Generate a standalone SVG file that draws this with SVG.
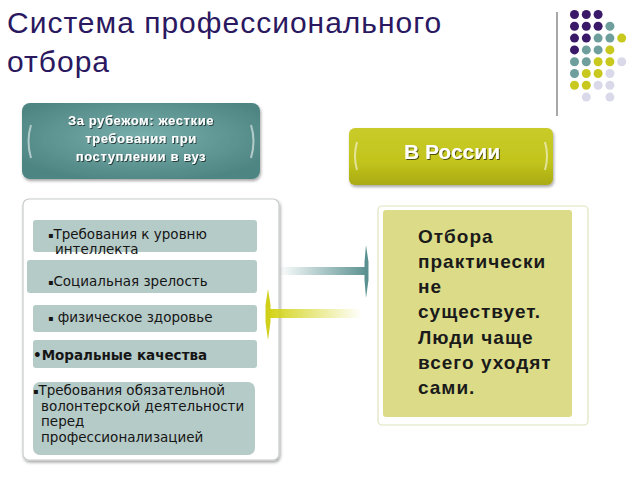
<svg xmlns="http://www.w3.org/2000/svg" width="640" height="480" viewBox="0 0 640 480">
<defs>
<style>
.title{font-family:"Liberation Sans",Arial,sans-serif;font-size:30px;letter-spacing:1px;fill:#2a1860}
.hdr{font-family:"Liberation Sans",Arial,sans-serif;font-weight:bold;fill:#ffffff;text-anchor:middle}
.item{font-family:"DejaVu Sans",Verdana,sans-serif;font-size:13.5px;fill:#151515}
.b{font-size:8px}
.big{font-family:"Liberation Sans",Arial,sans-serif;font-size:19px;font-weight:bold;letter-spacing:1px;fill:#1a1a1a}
.ibox{fill:#b5cbc8}
.p{fill:#3a1a68}.t{fill:#6e9f9c}.y{fill:#c8c81e}.l{fill:#d9d9ea}
.arc{fill:none;stroke:#ffffff;stroke-opacity:0.55;stroke-width:2}
</style>
<radialGradient id="gTeal" cx="50%" cy="45%" r="60%">
<stop offset="0" stop-color="#78aeac"/><stop offset="1" stop-color="#4e8583"/>
</radialGradient>
<linearGradient id="gYel" x1="0" y1="0" x2="0" y2="1">
<stop offset="0" stop-color="#c9cb2a"/><stop offset="0.6" stop-color="#c2c41c"/><stop offset="1" stop-color="#a9aa12"/>
</linearGradient>
<linearGradient id="aTeal" x1="0" y1="0" x2="1" y2="0">
<stop offset="0" stop-color="#5a9190" stop-opacity="0"/><stop offset="1" stop-color="#5a9190"/>
</linearGradient>
<linearGradient id="aYel" x1="0" y1="0" x2="1" y2="0">
<stop offset="0" stop-color="#d4d41c"/><stop offset="1" stop-color="#d4d41c" stop-opacity="0"/>
</linearGradient>
<filter id="sh" x="-10%" y="-10%" width="120%" height="130%">
<feDropShadow dx="1" dy="2" stdDeviation="1.5" flood-color="#000" flood-opacity="0.35"/>
</filter>
<filter id="tsh" x="-10%" y="-20%" width="120%" height="150%">
<feDropShadow dx="1" dy="1" stdDeviation="0.6" flood-color="#000" flood-opacity="0.6"/>
</filter>
</defs>
<rect width="640" height="480" fill="#ffffff"/>

<g id="title">
<text class="title" x="7" y="33">Система профессионального</text>
<text class="title" x="7" y="72">отбора</text>
</g>

<g id="decor">
<line x1="557" y1="12" x2="557" y2="116" stroke="#8a8a8a" stroke-width="1.5"/>
<circle class="p" cx="574.5" cy="14.5" r="4.5"/><circle class="p" cx="586.3" cy="14.5" r="4.5"/><circle class="p" cx="598.1" cy="14.5" r="4.5"/>
<circle class="p" cx="574.5" cy="26.3" r="4.5"/><circle class="p" cx="586.3" cy="26.3" r="4.5"/><circle class="p" cx="598.1" cy="26.3" r="4.5"/><circle class="t" cx="609.9" cy="26.3" r="4.5"/>
<circle class="p" cx="574.5" cy="38.1" r="4.5"/><circle class="p" cx="586.3" cy="38.1" r="4.5"/><circle class="t" cx="598.1" cy="38.1" r="4.5"/><circle class="t" cx="609.9" cy="38.1" r="4.5"/><circle class="y" cx="621.7" cy="38.1" r="4.5"/>
<circle class="p" cx="574.5" cy="49.9" r="4.5"/><circle class="t" cx="586.3" cy="49.9" r="4.5"/><circle class="t" cx="598.1" cy="49.9" r="4.5"/><circle class="y" cx="609.9" cy="49.9" r="4.5"/>
<circle class="t" cx="574.5" cy="61.7" r="4.5"/><circle class="t" cx="586.3" cy="61.7" r="4.5"/><circle class="y" cx="598.1" cy="61.7" r="4.5"/><circle class="y" cx="609.9" cy="61.7" r="4.5"/><circle class="l" cx="621.7" cy="61.7" r="4.5"/>
<circle class="t" cx="574.5" cy="73.5" r="4.5"/><circle class="y" cx="586.3" cy="73.5" r="4.5"/><circle class="y" cx="598.1" cy="73.5" r="4.5"/><circle class="l" cx="609.9" cy="73.5" r="4.5"/>
<circle class="y" cx="574.5" cy="85.3" r="4.5"/><circle class="y" cx="586.3" cy="85.3" r="4.5"/><circle class="l" cx="598.1" cy="85.3" r="4.5"/><circle class="l" cx="609.9" cy="85.3" r="4.5"/>
<circle class="l" cx="586.3" cy="97.1" r="4.5"/><circle class="l" cx="609.9" cy="97.1" r="4.5"/>
</g>

<g id="abroad-header">
<rect x="22" y="103" width="238" height="76" rx="8" fill="url(#gTeal)" filter="url(#sh)"/>
<path class="arc" d="M31 125 Q26 141 31 158"/>
<path class="arc" d="M251 125 Q256 141 251 158"/>
<text class="hdr" x="141" y="125" font-size="13" letter-spacing="0.6" filter="url(#tsh)">За рубежом: жесткие</text>
<text class="hdr" x="141" y="143" font-size="13" letter-spacing="0.6" filter="url(#tsh)">требования при</text>
<text class="hdr" x="141" y="161" font-size="13" letter-spacing="0.6" filter="url(#tsh)">поступлении в вуз</text>
</g>

<g id="russia-header">
<rect x="349" y="128" width="204" height="57" rx="6" fill="url(#gYel)" filter="url(#sh)"/>
<path class="arc" d="M357 142 Q353 156 357 170"/>
<path class="arc" d="M545 142 Q549 156 545 170"/>
<text class="hdr" x="452" y="159" font-size="21" filter="url(#tsh)">В России</text>
</g>

<g id="abroad-panel">
<rect x="23" y="199" width="256" height="261" rx="6" fill="#ffffff" stroke="#c9cccc" stroke-width="1.2" filter="url(#sh)"/>
</g>
<g id="item-intellect">
<rect class="ibox" x="33" y="220" width="224" height="32" rx="3"/>
<text class="item" x="48" y="239"><tspan class="b" dy="-1">▪</tspan><tspan dy="1">Требования к уровню</tspan></text>
<text class="item" x="55" y="254">интеллекта</text>
</g>
<g id="item-social">
<rect class="ibox" x="27" y="260" width="230" height="33" rx="3"/>
<text class="item" x="48" y="286"><tspan class="b" dy="-1">▪</tspan><tspan dy="1">Социальная зрелость</tspan></text>
</g>
<g id="item-health">
<rect class="ibox" x="33" y="305" width="224" height="27" rx="3"/>
<text class="item" x="48" y="322"><tspan class="b" dy="-1">▪</tspan><tspan dy="1"> физическое здоровье</tspan></text>
</g>
<g id="item-moral">
<rect class="ibox" x="33" y="340" width="224" height="28" rx="3"/>
<text class="item" x="33" y="360" font-size="14" font-weight="bold">•Моральные качества</text>
</g>
<g id="item-volunteer">
<rect class="ibox" x="33" y="382" width="222" height="73" rx="7"/>
<text class="item" x="33" y="395"><tspan class="b" dy="-1">▪</tspan><tspan dy="1">Требования обязательной</tspan></text>
<text class="item" x="41" y="411">волонтерской деятельности</text>
<text class="item" x="41" y="426">перед</text>
<text class="item" x="41" y="442">профессионализацией</text>
</g>

<g id="russia-panel">
<rect x="378" y="206" width="210" height="219" rx="4" fill="#ffffff" stroke="#dfe3bf" stroke-width="1.2"/>
<rect x="383" y="210" width="189" height="207" rx="3" fill="#dcdc88"/>
<text class="big" x="418" y="243">Отбора</text>
<text class="big" x="418" y="268">практически</text>
<text class="big" x="418" y="293">не</text>
<text class="big" x="418" y="318">существует.</text>
<text class="big" x="418" y="344">Люди чаще</text>
<text class="big" x="418" y="369">всего уходят</text>
<text class="big" x="418" y="394">сами.</text>
</g>

<g id="connectors">
<rect x="278" y="267" width="89" height="8" fill="url(#aTeal)"/>
<path d="M366 245 L368.5 262 L368.5 280 L366 298 L364.5 280 L364.5 262 Z" fill="#5a9190"/>
<rect x="270" y="309" width="92" height="9" fill="url(#aYel)"/>
<path d="M268 289 L270.5 305 L270.5 322 L268 340 L265.5 322 L265.5 305 Z" fill="#d0d01a"/>
</g>
</svg>
